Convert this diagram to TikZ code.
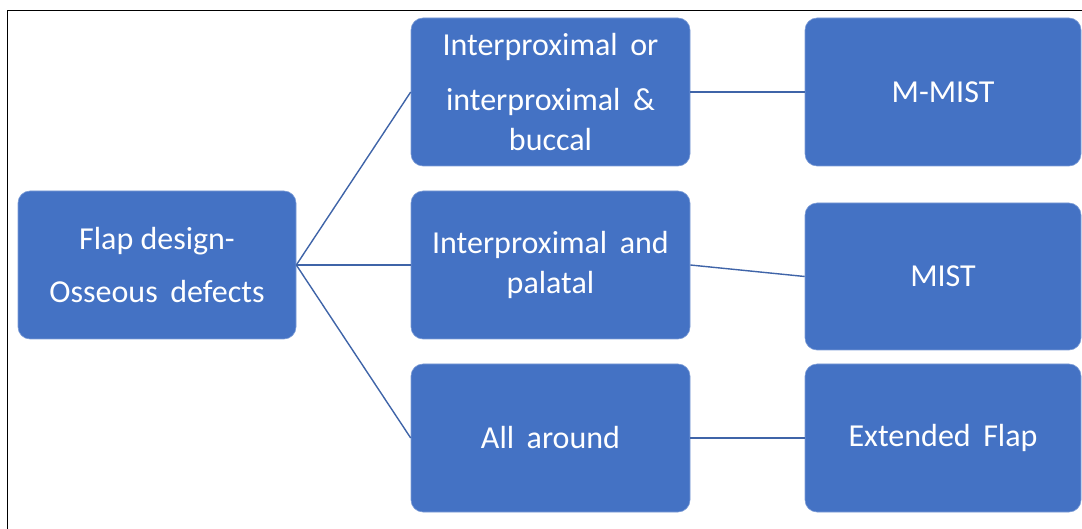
\documentclass[tikz,border=0pt]{standalone}
\usepackage{fontspec}
\setmainfont{Carlito}
\definecolor{boxblue}{HTML}{4472C4}
\definecolor{lineblue}{HTML}{3F64A8}
\begin{document}
\begin{tikzpicture}[x=1pt,y=-1pt,
  blk/.style={rectangle, rounded corners=12pt, fill=boxblue, draw=boxblue!70!white, line width=0.6pt,
    text=white, align=center, inner sep=0pt, minimum height=148pt,
    font=\fontsize{32}{40}\selectfont},
  conn/.style={draw=lineblue, line width=1.4pt}]
\useasboundingbox (0,0) rectangle (1082,529);
\draw[line width=1.8pt] (7.5,529) -- (7.5,10.5) -- (1082,10.5);
\node[blk, minimum width=278pt] (root) at (157,265) {Flap design-\\[13pt]Osseous\ \,defects};
\node[blk, minimum width=279pt] (m1) at (550.5,92) {Interproximal\ \,or\\[15pt]interproximal\ \,\&\\buccal};
\node[blk, minimum width=279pt] (m2) at (550.5,265) {Interproximal\ \,and\\palatal};
\node[blk, minimum width=279pt] (m3) at (550.5,438) {All\ \,around};
\node[blk, minimum width=276pt] (r1) at (943,92) {M-MIST};
\node[blk, minimum width=276pt, minimum height=147pt] (r2) at (943,276.5) {MIST};
\node[blk, minimum width=276pt] (r3) at (943,438) {Extended\ \,Flap};
\draw[conn] (root.east) -- (m1.west);
\draw[conn] (root.east) -- (m2.west);
\draw[conn] (root.east) -- (m3.west);
\draw[conn] (m1.east) -- (r1.west);
\draw[conn] (m2.east) -- (r2.west);
\draw[conn] (m3.east) -- (r3.west);
\end{tikzpicture}
\end{document}
